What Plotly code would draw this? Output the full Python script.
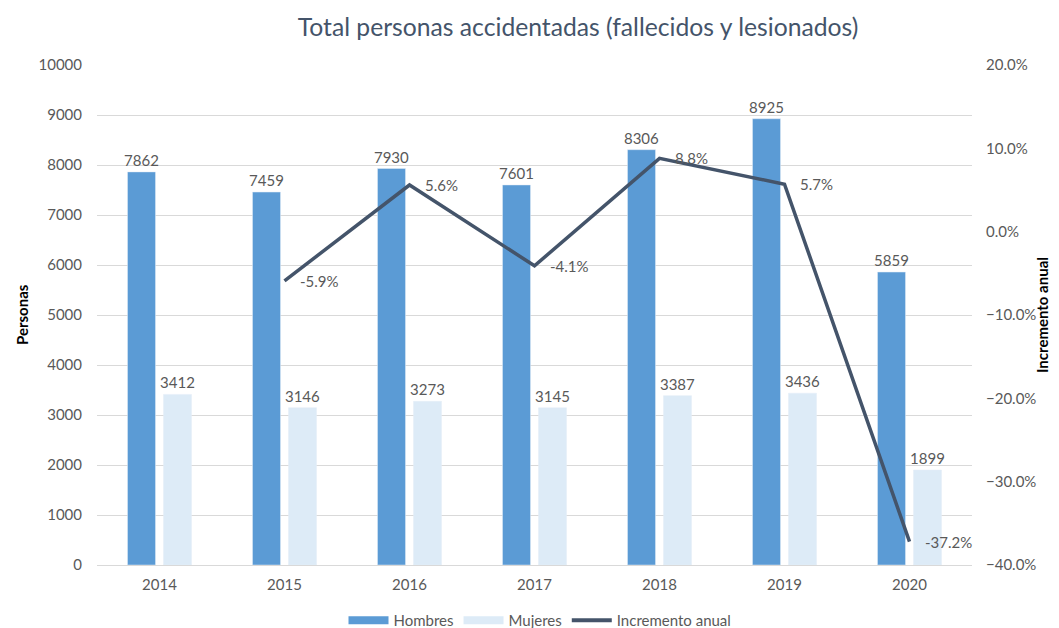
import plotly.graph_objects as go

years = ["2014", "2015", "2016", "2017", "2018", "2019", "2020"]
hombres = [7862, 7459, 7930, 7601, 8306, 8925, 5859]
mujeres = [3412, 3146, 3273, 3145, 3387, 3436, 1899]
incremento = [None, -5.9, 5.6, -4.1, 8.8, 5.7, -37.2]

FONT = "Lato"
TXT = "#595959"
C_H = "#5b9bd5"
C_M = "#ddebf7"
C_L = "#44546a"

W, H = 1051, 620
ML, MR, MT, MB = 89, 87, 57, 63
PW = W - ML - MR

fig = go.Figure()
fig.add_trace(go.Bar(
    x=years, y=hombres, name="Hombres", marker_color=C_H, showlegend=False,
    text=[str(v) for v in hombres], textposition="outside", constraintext="none",
    textfont=dict(size=15, color=TXT, family=FONT), cliponaxis=False,
))
fig.add_trace(go.Bar(
    x=years, y=mujeres, name="Mujeres", marker_color=C_M, showlegend=False,
    text=[str(v) for v in mujeres], textposition="outside", constraintext="none",
    textfont=dict(size=15, color=TXT, family=FONT), cliponaxis=False,
))
fig.add_trace(go.Scatter(
    x=years, y=incremento, name="Incremento anual", yaxis="y2",
    mode="lines", line=dict(color=C_L, width=3.5), showlegend=False,
))
# legend entries
fig.add_trace(go.Scatter(x=[years[0]], y=[None], mode="lines", name="Hombres",
                         line=dict(color=C_H, width=8)))
fig.add_trace(go.Scatter(x=[years[0]], y=[None], mode="lines", name="Mujeres",
                         line=dict(color=C_M, width=8)))
fig.add_trace(go.Scatter(x=[years[0]], y=[None], mode="lines", name="Incremento anual",
                         line=dict(color=C_L, width=4)))

for i, v in enumerate(incremento):
    if v is None:
        continue
    fig.add_annotation(x=i, y=v, xref="x", yref="y2", text=f"{v:.1f}%",
                       showarrow=False, xanchor="left", yanchor="middle", xshift=13,
                       font=dict(size=15, color=TXT, family=FONT))

fig.add_annotation(x=(14 - ML) / PW, y=0.5, xref="paper", yref="paper",
                   text="<b>Personas</b>", textangle=-90, showarrow=False,
                   xanchor="center", yanchor="middle",
                   font=dict(size=15, color="#000000", family=FONT))
fig.add_annotation(x=(1034 - ML) / PW, y=0.5, xref="paper", yref="paper",
                   text="<b>Incremento anual</b>", textangle=-90, showarrow=False,
                   xanchor="center", yanchor="middle",
                   font=dict(size=15, color="#000000", family=FONT))

fig.update_layout(
    width=W, height=H,
    margin=dict(l=ML, r=MR, t=MT, b=MB, autoexpand=False),
    paper_bgcolor="white", plot_bgcolor="white",
    font=dict(family=FONT, size=15, color=TXT),
    title=dict(text="Total personas accidentadas (fallecidos y lesionados)",
               x=570 / W, xanchor="center", y=1 - 19 / H, yanchor="middle",
               font=dict(size=24.7, color=C_L, family=FONT)),
    barmode="group", bargap=0.424, bargroupgap=0.222,
    xaxis=dict(type="category", range=[-0.5, len(years) - 0.5], showgrid=False,
               showline=True, linecolor="#d9d9d9", linewidth=1, ticks="",
               tickfont=dict(size=15, color=TXT), automargin=False,
               ticklabelstandoff=6),
    yaxis=dict(range=[0, 10000], dtick=1000, tickformat="d", showgrid=True,
               gridcolor="#d9d9d9", gridwidth=1, zeroline=False, ticks="",
               tickfont=dict(size=15, color=TXT), automargin=False,
               ticklabelstandoff=14),
    yaxis2=dict(overlaying="y", side="right", range=[-40, 20], dtick=10,
                showgrid=False, zeroline=False, ticksuffix="%", tickformat=".1f",
                tickfont=dict(size=15, color=TXT), automargin=False,
                ticklabelstandoff=13),
    legend=dict(orientation="h", x=(532 - ML) / PW, xanchor="center", y=-0.078,
                yanchor="top", font=dict(size=15, color=TXT), itemwidth=40),
)

fig.write_html("out.html")
